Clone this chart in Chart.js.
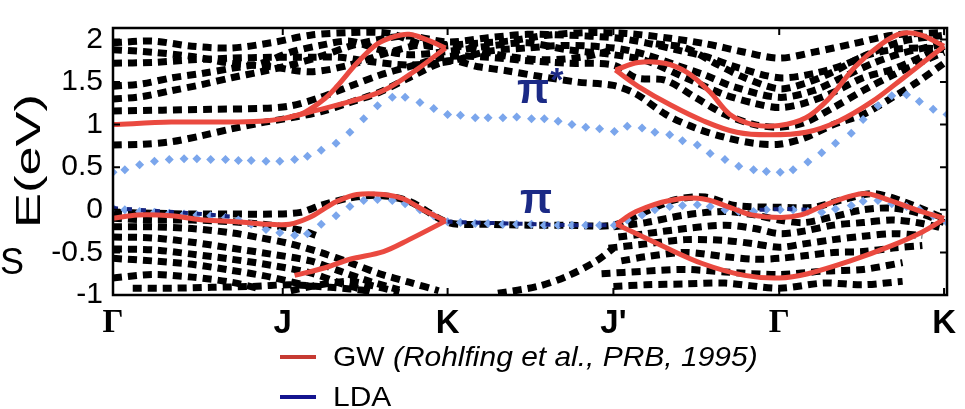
<!DOCTYPE html>
<html>
<head>
<meta charset="utf-8">
<script src="https://cdn.jsdelivr.net/npm/chart.js@4.4.1/dist/chart.umd.min.js"></script>
<style>
  body { margin: 0; background: #fff; }
  #wrap { position: relative; width: 965px; height: 409px; font-family: 'Liberation Sans', Arial, sans-serif; }
  .lbl { position: absolute; white-space: nowrap; line-height: 1; color: #000; }
  .pi { color: #1b2a86; font-size: 42px; font-weight: bold; }
  .star { font-size: 34px; position: relative; top: -12px; margin-left: 1px; }
  .ytitle { position: absolute; left: 27px; top: 161px; font-size: 35px; line-height: 1; white-space: nowrap;
            transform: translate(-50%, -50%) rotate(-90deg) scaleX(1.5); }
  .legtxt { transform-origin: left center; transform: scaleX(1.07); font-size: 28px; }
  .swatch { position: absolute; width: 36px; height: 4px; }
</style>
</head>
<body>
<div id="wrap">
  <canvas id="bands" width="965" height="409"></canvas>
  <div class="ytitle">E(eV)</div>
  <div class="lbl" style="left:0;top:244px;font-size:36px;">S</div>
  <div class="lbl pi" style="left:517px;top:68px;">π<span class="star">*</span></div>
  <div class="lbl pi" style="left:520px;top:178px;">π</div>
  <div class="swatch" style="left:280px;top:355px;background:#c63a32;"></div>
  <div class="lbl legtxt" style="left:333px;top:343px;">GW <i>(Rohlfing et al., PRB, 1995)</i></div>
  <div class="swatch" style="left:280px;top:395px;background:#14148f;"></div>
  <div class="lbl legtxt" style="left:333px;top:383px;">LDA</div>
</div>
<script>
// symmetry points along the path
const symLabels = ['Γ', 'J', 'K', "J'", 'Γ', 'K'];
const symPos = [0, 1.72, 3.39, 5.07, 6.75, 8.42];
const yTicks = [-1, -0.5, 0, 0.5, 1, 1.5, 2];

// LDA (light blue diamonds)
const ldaX = [0, 0.12, 0.27, 0.42, 0.57, 0.72, 0.85, 0.99, 1.14, 1.27, 1.40, 1.55, 1.69, 1.84, 1.97, 2.11,
  2.26, 2.40, 2.54, 2.68, 2.83, 2.96, 3.11, 3.25, 3.39, 3.52, 3.67, 3.80, 3.95, 4.09, 4.24, 4.37,
  4.51, 4.65, 4.79, 4.93, 5.08, 5.21, 5.36, 5.49, 5.64, 5.77, 5.92, 6.05, 6.20, 6.34, 6.49, 6.62,
  6.76, 6.89, 7.04, 7.18, 7.32, 7.48, 7.60, 7.75, 7.89, 8.04, 8.17, 8.31, 8.45];
const ldaPiStar = [0.44, 0.47, 0.53, 0.57, 0.59, 0.60, 0.60, 0.59, 0.59, 0.58, 0.58, 0.57, 0.57, 0.59, 0.63, 0.70,
  0.78, 0.91, 1.07, 1.22, 1.32, 1.32, 1.26, 1.19, 1.12, 1.11, 1.08, 1.08, 1.08, 1.09, 1.07, 1.07,
  1.04, 1.00, 0.97, 0.95, 0.92, 0.98, 0.96, 0.91, 0.88, 0.81, 0.76, 0.66, 0.59, 0.51, 0.47, 0.45,
  0.44, 0.47, 0.56, 0.67, 0.78, 0.90, 1.06, 1.22, 1.34, 1.35, 1.27, 1.18, 1.12];
const ldaPi = [0.02, 0.00, -0.02, -0.03, -0.04, -0.05, -0.06, -0.07, -0.09, -0.12, -0.17, -0.23, -0.27, -0.30, -0.28, -0.17,
  -0.07, 0.04, 0.11, 0.12, 0.11, 0.07, 0.00, -0.07, -0.14, -0.15, -0.16, -0.16, -0.17, -0.17, -0.17, -0.18,
  -0.18, -0.18, -0.18, -0.18, -0.18, -0.12, -0.06, 0.00, 0.04, 0.05, 0.06, 0.04, 0.00, -0.02, -0.02, 0.00,
  0.00, 0.00, -0.02, -0.03, 0.01, 0.05, 0.10, 0.11, 0.07, 0.04, 0.00, -0.07, -0.15];

// dark LDA dots where they show through
const ldaDarkA = [[0, 0.02], [0.4, -0.01], [0.8, -0.04], [1.2, -0.08]];
const ldaDarkB = [[3.39, -0.14], [4.0, -0.16], [4.6, -0.18], [5.07, -0.18]];
const ldaDarkC = [[6.55, 0.0], [6.8, 0.01], [7.05, 0.0]];

// GW (red)
const gwCondLow = [[0, 1.0], [0.59, 1.03], [1.09, 1.03], [1.49, 1.04], [1.72, 1.07], [2.07, 1.17], [2.40, 1.27], [2.74, 1.40], [3.07, 1.64], [3.37, 1.90]];
const gwCondUp = [[1.78, 1.08], [1.95, 1.15], [2.15, 1.31], [2.27, 1.45], [2.47, 1.72], [2.67, 1.94], [2.84, 2.03], [3.0, 2.06], [3.17, 2.0], [3.37, 1.90]];
const gwCondRUp = [[5.09, 1.64], [5.32, 1.73], [5.59, 1.72], [5.82, 1.61], [6.05, 1.38], [6.25, 1.12], [6.49, 1.0], [6.75, 0.99], [7.02, 1.08], [7.25, 1.30], [7.52, 1.68], [7.79, 1.95], [7.99, 2.07], [8.19, 2.05], [8.42, 1.92]];
const gwCondRLow = [[5.09, 1.64], [5.32, 1.45], [5.65, 1.23], [5.99, 1.04], [6.32, 0.91], [6.65, 0.88], [7.02, 0.91], [7.35, 1.04], [7.69, 1.27], [8.02, 1.56], [8.42, 1.92]];
const gwValUp = [[0, -0.10], [0.25, -0.06], [0.59, -0.07], [0.92, -0.12], [1.25, -0.14], [1.59, -0.17], [1.79, -0.17], [1.99, -0.09], [2.15, 0.02], [2.27, 0.10], [2.47, 0.18], [2.74, 0.18], [2.94, 0.13], [3.14, 0.0], [3.37, -0.13]];
const gwValLow = [[1.84, -0.77], [2.15, -0.68], [2.40, -0.58], [2.74, -0.49], [3.0, -0.35], [3.37, -0.13]];
const gwValRUp = [[5.10, -0.17], [5.30, -0.02], [5.64, 0.11], [5.97, 0.13], [6.27, 0.02], [6.47, -0.06], [6.77, -0.09], [6.97, -0.06], [7.20, 0.05], [7.47, 0.16], [7.64, 0.19], [7.87, 0.11], [8.14, 0.0], [8.42, -0.10]];
const gwValRLow = [[5.10, -0.17], [5.54, -0.41], [5.97, -0.63], [6.40, -0.77], [6.75, -0.80], [7.04, -0.75], [7.47, -0.60], [7.87, -0.43], [8.20, -0.26], [8.42, -0.11]];

// black square bands
const blackBands = [
  [[0, 0.76], [0.3, 0.77], [0.6, 0.80], [0.9, 0.87], [1.2, 0.95], [1.5, 1.02], [1.8, 1.08], [2.1, 1.15], [2.4, 1.26], [2.7, 1.38], [3.0, 1.55], [3.4, 1.75], [3.7, 1.68], [4.0, 1.63], [4.3, 1.57], [4.7, 1.50], [5.07, 1.46], [5.3, 1.36], [5.6, 1.12], [5.9, 0.96], [6.2, 0.85], [6.5, 0.78], [6.75, 0.77], [7.0, 0.84], [7.3, 1.0], [7.6, 1.12], [7.9, 1.32], [8.15, 1.50], [8.42, 1.72]],
  [[0, 1.16], [0.5, 1.17], [1.0, 1.18], [1.5, 1.19], [1.8, 1.22], [2.1, 1.32], [2.4, 1.45], [2.7, 1.58], [3.0, 1.68], [3.4, 1.80], [3.8, 1.79], [4.2, 1.75], [4.6, 1.72], [5.07, 1.70], [5.3, 1.55], [5.6, 1.52], [5.9, 1.32], [6.2, 1.12], [6.5, 1.0], [6.75, 0.97], [7.0, 1.02], [7.3, 1.2], [7.6, 1.4], [7.9, 1.58], [8.2, 1.74], [8.42, 1.85]],
  [[0, 1.72], [0.4, 1.73], [0.8, 1.76], [1.2, 1.78], [1.6, 1.79], [2.0, 1.79], [2.3, 1.79], [2.6, 1.74], [3.0, 1.70], [3.4, 1.74], [3.8, 1.86], [4.2, 1.90], [4.6, 1.93], [5.07, 1.90], [5.4, 1.82], [5.7, 1.70], [6.0, 1.58], [6.3, 1.44], [6.75, 1.32], [7.1, 1.40], [7.4, 1.56], [7.7, 1.72], [8.0, 1.84], [8.42, 1.95]],
  [[0, 1.30], [0.3, 1.33], [0.6, 1.40], [0.9, 1.47], [1.2, 1.55], [1.5, 1.62], [1.8, 1.70], [2.1, 1.80], [2.4, 1.92], [2.7, 2.00], [3.0, 2.04], [3.4, 1.97], [3.8, 2.02], [4.2, 2.06], [4.6, 2.05], [5.07, 2.02], [5.4, 1.96], [5.7, 1.88], [6.0, 1.80], [6.3, 1.68], [6.75, 1.55], [7.1, 1.60], [7.4, 1.70], [7.7, 1.85], [8.0, 1.98], [8.42, 2.05]],
  [[0, 1.45], [0.3, 1.48], [0.6, 1.55], [0.9, 1.60], [1.2, 1.66], [1.5, 1.72], [1.8, 1.85], [2.1, 1.93], [2.4, 1.98], [2.7, 1.88], [3.0, 1.82], [3.4, 1.86], [3.8, 1.92], [4.2, 1.96], [4.6, 1.88], [5.07, 1.82], [5.4, 1.75], [5.8, 1.55], [6.2, 1.35], [6.5, 1.25], [6.75, 1.20], [7.0, 1.25], [7.3, 1.38], [7.6, 1.55], [7.9, 1.65], [8.2, 1.80], [8.42, 1.92]],
  [[0, 1.96], [0.4, 1.98], [0.8, 1.92], [1.2, 1.90], [1.6, 1.96], [2.0, 2.05], [2.4, 2.08], [2.8, 2.07], [3.2, 1.92], [3.6, 1.95], [4.0, 1.98], [4.4, 2.05], [4.8, 2.08], [5.2, 2.07], [5.6, 2.02], [6.0, 1.95], [6.4, 1.85], [6.75, 1.78], [7.1, 1.85], [7.5, 1.95], [7.9, 2.05], [8.42, 2.08]],
  [[0, 1.88], [0.4, 1.85], [0.8, 1.80], [1.2, 1.72], [1.6, 1.68], [2.0, 1.62], [2.4, 1.70], [2.8, 1.85], [3.2, 1.95], [3.6, 1.90], [4.0, 1.80], [4.4, 1.76], [4.8, 1.80], [5.07, 1.88]],
  [[5.5, 1.95], [5.8, 1.90], [6.1, 1.72], [6.4, 1.55], [6.75, 1.42], [7.0, 1.48], [7.3, 1.62], [7.6, 1.80], [7.9, 1.88], [8.2, 1.90], [8.42, 1.88]],
  [[0, -0.03], [0.4, -0.04], [0.8, -0.05], [1.2, -0.05], [1.6, -0.05], [1.9, -0.03], [2.1, 0.05], [2.4, 0.14], [2.7, 0.17], [3.0, 0.10], [3.4, -0.15], [3.8, -0.17], [4.2, -0.18], [4.6, -0.18], [5.07, -0.18], [5.4, -0.02], [5.7, 0.12], [6.0, 0.15], [6.3, 0.05], [6.75, 0.03], [7.1, 0.03], [7.4, 0.12], [7.7, 0.19], [8.0, 0.10], [8.42, -0.10]],
  [[0, -0.20], [0.4, -0.20], [0.8, -0.22], [1.2, -0.27], [1.5, -0.33], [1.8, -0.40], [2.1, -0.50], [2.4, -0.62], [2.7, -0.75], [3.0, -0.85], [3.3, -0.95]],
  [[0, -0.32], [0.4, -0.33], [0.8, -0.38], [1.2, -0.45], [1.6, -0.52], [2.0, -0.60], [2.3, -0.72], [2.6, -0.84], [2.9, -0.94]],
  [[0, -0.46], [0.4, -0.47], [0.8, -0.52], [1.2, -0.58], [1.6, -0.65], [2.0, -0.74], [2.3, -0.86], [2.6, -0.96]],
  [[0, -0.57], [0.4, -0.60], [0.8, -0.64], [1.2, -0.71], [1.6, -0.79], [2.0, -0.90]],
  [[0, -0.80], [0.4, -0.76], [0.8, -0.79], [1.2, -0.85], [1.5, -0.93]],
  [[0.2, -0.92], [0.6, -0.92], [1.0, -0.91], [1.4, -0.90], [1.8, -0.88], [2.2, -0.91], [2.6, -0.95]],
  [[0, -0.10], [0.4, -0.12], [0.8, -0.12], [1.2, -0.14], [1.6, -0.18], [1.9, -0.24], [2.1, -0.32]],
  [[5.07, -0.20], [5.4, -0.15], [5.8, -0.06], [6.2, -0.02], [6.5, -0.06], [6.75, -0.12], [7.0, -0.15], [7.3, -0.08], [7.6, 0.0], [7.9, 0.02], [8.2, -0.05], [8.42, -0.15]],
  [[5.12, -0.32], [5.4, -0.28], [5.8, -0.22], [6.2, -0.18], [6.5, -0.22], [6.75, -0.28], [7.0, -0.25], [7.3, -0.18], [7.6, -0.15], [7.9, -0.12], [8.2, -0.16], [8.42, -0.22]],
  [[5.02, -0.45], [5.4, -0.40], [5.8, -0.35], [6.2, -0.36], [6.5, -0.40], [6.75, -0.44], [7.0, -0.40], [7.3, -0.35], [7.6, -0.31], [7.9, -0.28], [8.2, -0.30]],
  [[5.15, -0.60], [5.4, -0.55], [5.8, -0.50], [6.2, -0.55], [6.5, -0.58], [6.75, -0.57], [7.0, -0.54], [7.3, -0.50], [7.6, -0.49], [7.9, -0.45], [8.2, -0.42]],
  [[4.95, -0.75], [5.4, -0.72], [5.8, -0.70], [6.2, -0.73], [6.75, -0.76], [7.2, -0.72], [7.6, -0.70], [8.0, -0.62]],
  [[5.07, -0.90], [5.4, -0.88], [5.8, -0.87], [6.2, -0.86], [6.75, -0.92], [7.2, -0.86], [7.6, -0.88], [8.0, -0.84]],
  [[3.9, -0.98], [4.3, -0.90], [4.6, -0.78], [4.9, -0.60], [5.07, -0.45]],
  [[1.8, -0.95], [2.1, -0.88], [2.4, -0.84], [2.7, -0.91], [2.9, -0.97]]
];

const toPts = arr => arr.map(p => ({ x: p[0], y: p[1] }));

const datasets = [];

[gwCondLow, gwCondUp, gwCondRUp, gwCondRLow, gwValUp, gwValLow, gwValRUp, gwValRLow].forEach(b => {
  datasets.push({
    data: toPts(b), borderColor: '#ea4a40', borderWidth: 5, tension: 0.35,
    pointRadius: 0, fill: false, order: 1
  });
});

[ldaDarkA, ldaDarkB, ldaDarkC].forEach(b => {
  datasets.push({
    data: toPts(b), borderColor: '#15237f', borderWidth: 4, borderDash: [5, 9],
    pointRadius: 0, fill: false, order: 2
  });
});

[ldaPiStar, ldaPi].forEach(vals => {
  datasets.push({
    data: ldaX.map((x, i) => ({ x: x, y: vals[i] })),
    showLine: false, pointStyle: 'rectRot', pointRadius: 4.5,
    pointBackgroundColor: '#7ba6ec', pointBorderWidth: 0, order: 3
  });
});

blackBands.forEach(b => {
  datasets.push({
    data: toPts(b), borderColor: '#000', borderWidth: 7, borderDash: [9, 6],
    borderCapStyle: 'butt', tension: 0.3, pointRadius: 0, fill: false, order: 5
  });
});

// box frame with inward ticks
const framePlugin = {
  id: 'frame',
  afterDatasetsDraw(chart) {
    const { ctx, chartArea: a, scales } = chart;
    ctx.save();
    ctx.strokeStyle = '#000';
    ctx.lineWidth = 2.5;
    ctx.strokeRect(a.left, a.top, a.right - a.left, a.bottom - a.top);
    ctx.lineWidth = 2;
    ctx.beginPath();
    yTicks.forEach(v => {
      const py = scales.y.getPixelForValue(v);
      ctx.moveTo(a.left, py); ctx.lineTo(a.left + 7, py);
      ctx.moveTo(a.right, py); ctx.lineTo(a.right - 7, py);
    });
    symPos.forEach(v => {
      const px = scales.x.getPixelForValue(v);
      ctx.moveTo(px, a.bottom); ctx.lineTo(px, a.bottom - 7);
      ctx.moveTo(px, a.top); ctx.lineTo(px, a.top + 7);
    });
    ctx.stroke();
    ctx.restore();
  }
};

new Chart(document.getElementById('bands'), {
  type: 'line',
  data: { datasets: datasets },
  options: {
    responsive: false,
    animation: false,
    events: [],
    layout: { padding: { left: 0, right: 7, top: 16, bottom: 0 } },
    plugins: { legend: { display: false }, tooltip: { enabled: false } },
    scales: {
      x: {
        type: 'linear', min: 0, max: 8.45,
        grid: { display: false, drawTicks: false },
        border: { display: false },
        afterFit: s => { s.height = 114; },
        afterBuildTicks: s => { s.ticks = symPos.map(v => ({ value: v })); },
        ticks: {
          padding: 9,
          color: '#000',
          autoSkip: false,
          maxRotation: 0,
          font: ctx => (ctx.index === 0 || ctx.index === 4
            ? { family: "'Liberation Serif', serif", size: 33, weight: 'bold' }
            : { family: "'Liberation Sans', Arial, sans-serif", size: 33, weight: 'bold' }),
          callback: (v, i) => symLabels[i]
        }
      },
      y: {
        type: 'linear', min: -1, max: 2.134,
        grid: { display: false, drawTicks: false },
        border: { display: false },
        afterFit: s => { s.width = 113; },
        afterBuildTicks: s => { s.ticks = yTicks.map(v => ({ value: v })); },
        ticks: {
          padding: 10,
          color: '#000',
          font: { family: "'Liberation Sans', Arial, sans-serif", size: 30 },
          callback: v => String(v)
        }
      }
    }
  },
  plugins: [framePlugin]
});
</script>
</body>
</html>
